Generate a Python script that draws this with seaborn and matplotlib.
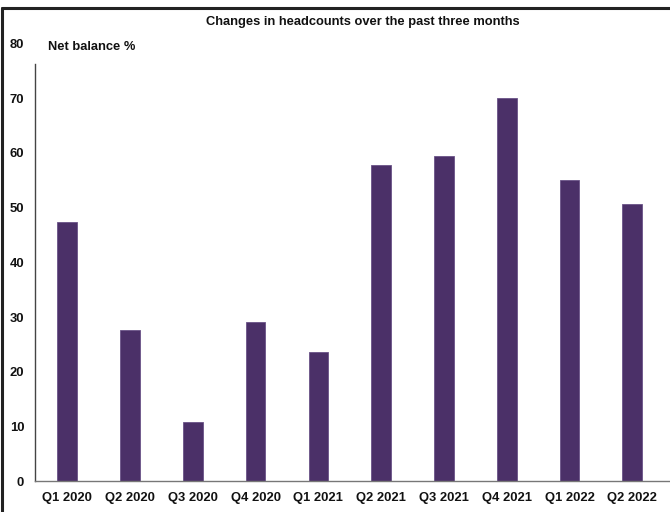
import matplotlib
matplotlib.use("Agg")
import matplotlib.pyplot as plt
import seaborn as sns
import pandas as pd
from matplotlib.lines import Line2D

quarters = ["Q1 2020", "Q2 2020", "Q3 2020", "Q4 2020", "Q1 2021",
            "Q2 2021", "Q3 2021", "Q4 2021", "Q1 2022", "Q2 2022"]
net_balance = [47.3, 27.6, 10.9, 29.1, 23.6, 57.8, 59.5, 70.0, 55.1, 50.6]
y_ticks = [0, 10, 20, 30, 40, 50, 60, 70, 80]
title_text = "Changes in headcounts over the past three months"
unit_text = "Net balance %"

sns.set_theme(style="white")
plt.rcParams["font.family"] = ["Liberation Sans", "DejaVu Sans"]

W, H = 670, 512
fig = plt.figure(figsize=(W / 100, H / 100), dpi=100)
ax_left, ax_bottom_px, ax_top_px = 35.3, 481.3, 43.3
ax = fig.add_axes([ax_left / W, (H - ax_bottom_px) / H, 1 - ax_left / W,
                   (ax_bottom_px - ax_top_px) / H])

df = pd.DataFrame({"quarter": quarters, "value": net_balance})
sns.barplot(data=df, x="quarter", y="value", color="#4B3068", saturation=1,
            width=0.314, ax=ax, edgecolor="#6a5287", linewidth=0.6)

ax.set_xlim(-0.508, 9.6)
ax.set_ylim(0, 80)
ax.set_yticks(y_ticks)
ax.set_xlabel("")
ax.set_ylabel("")
ax.grid(False)
ax.tick_params(axis="both", length=0, labelsize=9.4, colors="#111111")
ax.tick_params(axis="x", pad=8)
ax.tick_params(axis="y", pad=8)
for lbl in ax.get_xticklabels() + ax.get_yticklabels():
    lbl.set_fontweight("bold")

ax.spines["top"].set_visible(False)
ax.spines["right"].set_visible(False)
ax.spines["left"].set_color("#444444")
ax.spines["left"].set_linewidth(1.0)
ax.spines["left"].set_bounds(0, 76.3)
ax.spines["bottom"].set_color("#777777")
ax.spines["bottom"].set_linewidth(1.0)

fig.text(362.5 / W, 1 - 22 / H, title_text, ha="center", va="center",
         fontsize=9.3, fontweight="bold", color="#111111")
fig.text(48 / W, 1 - 47.5 / H, unit_text, ha="left", va="center",
         fontsize=9.3, fontweight="bold", color="#111111")

# outer frame (top and left edges)
fig.add_artist(Line2D([1.5 / W, 1.0], [1 - 7.5 / H, 1 - 7.5 / H],
                      transform=fig.transFigure, color="#222222", linewidth=2.2))
fig.add_artist(Line2D([1.5 / W, 1.5 / W], [0, 1 - 7.5 / H],
                      transform=fig.transFigure, color="#222222", linewidth=2.2))

fig.savefig("out.png", dpi=100)
